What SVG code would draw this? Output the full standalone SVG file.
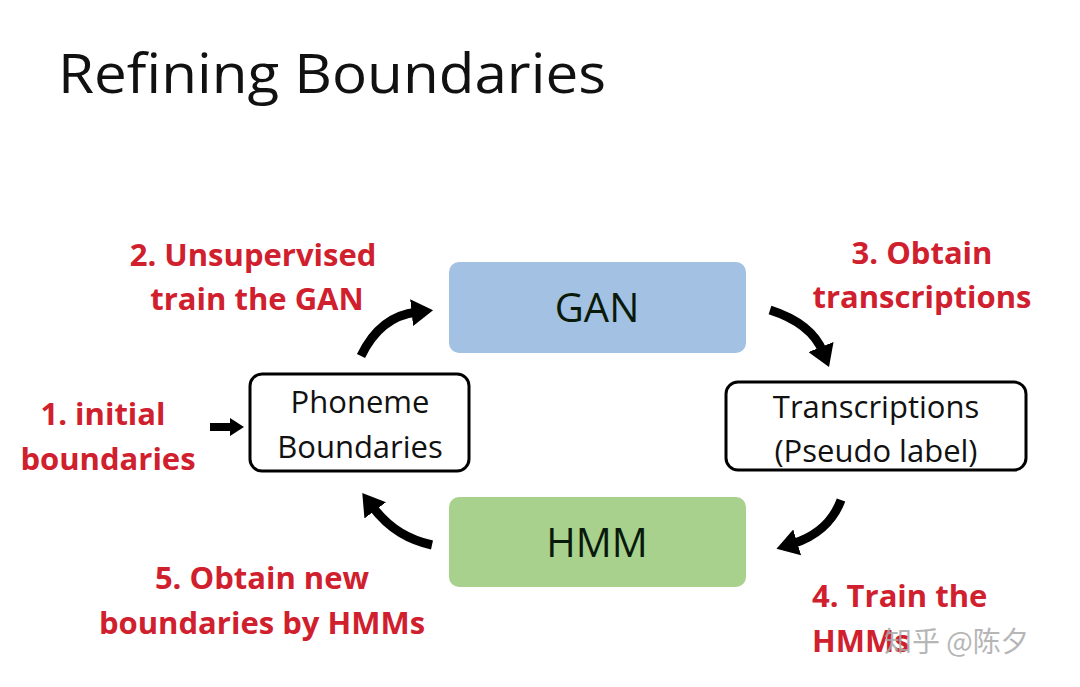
<svg xmlns="http://www.w3.org/2000/svg" width="1080" height="687" viewBox="0 0 1080 687">
<style>
.title{font-family:"Open Sans","Liberation Sans",sans-serif;font-weight:400;font-size:54px;fill:#111}
.red{font-family:"Open Sans","Liberation Sans",sans-serif;font-weight:700;font-size:31px;fill:#d0202e}
.node{font-family:"Open Sans","Liberation Sans",sans-serif;font-size:31px;fill:#111;text-anchor:middle}
.big{font-family:"Open Sans","Liberation Sans",sans-serif;font-size:40px;fill:#0a1a0a;text-anchor:middle}
.arr{fill:none;stroke:#000;stroke-width:9;marker-end:url(#ah)}
.wm{font-family:"Noto Sans CJK SC",sans-serif;font-size:28px;fill:#aaaaaa;opacity:0.85}
</style>
<defs>
<marker id="ah" viewBox="0 0 8 10" refX="2" refY="5" markerWidth="2.4" markerHeight="3" orient="auto" markerUnits="strokeWidth">
<polygon points="0,0 8,5 0,10" fill="#000"/>
</marker>
</defs>
<rect width="1080" height="687" fill="#ffffff"/>
<text class="title" x="58" y="93" textLength="548" lengthAdjust="spacingAndGlyphs">Refining Boundaries</text>

<g id="gan">
<rect x="449" y="262" width="297" height="91" rx="10" fill="#a3c2e3"/>
<text class="big" x="597" y="322">GAN</text>
</g>
<g id="hmm">
<rect x="449" y="497" width="297" height="90" rx="10" fill="#a9d18e"/>
<text class="big" x="597" y="557">HMM</text>
</g>
<g id="phoneme">
<rect x="250" y="374" width="219" height="97" rx="12" fill="#fff" stroke="#000" stroke-width="3"/>
<text class="node" x="360" y="413">Phoneme</text>
<text class="node" x="360" y="458">Boundaries</text>
</g>
<g id="transcriptions">
<rect x="726" y="382" width="300" height="88" rx="12" fill="#fff" stroke="#000" stroke-width="3"/>
<text class="node" x="876" y="418">Transcriptions</text>
<text class="node" x="876" y="462">(Pseudo label)</text>
</g>

<g id="connectors">
<path class="arr" d="M 361 356 C 372 333 390 315 417 312"/>
<path class="arr" d="M 770 310 C 795 318 815 332 823 352"/>
<path class="arr" d="M 841 500 C 833 522 815 537 792 544"/>
<path class="arr" d="M 432 545 C 410 540 390 530 372 506"/>
<path d="M 210 427 L 232 427" stroke="#000" stroke-width="8" fill="none"/>
<polygon points="230,418 244,427 230,436" fill="#000"/>
</g>

<g id="labels">
<text class="red" x="253" y="266" text-anchor="middle">2. Unsupervised</text>
<text class="red" x="257" y="310" text-anchor="middle">train the GAN</text>
<text class="red" x="922" y="264" text-anchor="middle">3. Obtain</text>
<text class="red" x="922" y="308" text-anchor="middle">transcriptions</text>
<text class="red" x="103" y="425" text-anchor="middle">1. initial</text>
<text class="red" x="108" y="470" text-anchor="middle">boundaries</text>
<text class="red" x="262" y="589" text-anchor="middle">5. Obtain new</text>
<text class="red" x="262" y="634" text-anchor="middle">boundaries by HMMs</text>
<text class="red" x="812" y="607">4. Train the</text>
<text class="red" x="812" y="652">HMMs</text>
</g>
<text class="wm" x="884" y="652">知乎 @陈夕</text>
</svg>
